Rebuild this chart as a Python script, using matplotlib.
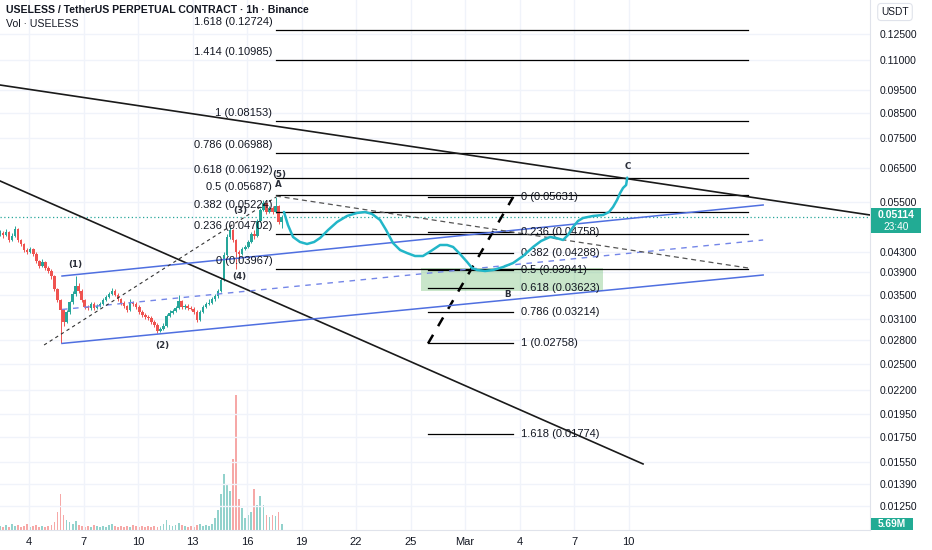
import numpy as np
import matplotlib
matplotlib.use("Agg")
import matplotlib.pyplot as plt
from matplotlib.patches import Rectangle

plt.rcParams["font.family"] = ["Liberation Sans", "DejaVu Sans"]

# ---- candles (4h buckets, day numbers on the chart's own calendar) ----
start_day = 2.4
first_open = 0.04700
closes = [0.04727,0.04682,0.04750,0.04568,0.04659,0.04820,0.04568,0.04480,0.04350,0.04308,
          0.04372,0.04266,0.04123,0.04024,0.04103,0.03985,0.03927,0.03832,0.03597,0.03409,
          0.03246,0.03062,0.03215,0.03376,0.03510,0.03650,0.03562,0.03409,0.03295,0.03279,
          0.03343,0.03279,0.03311,0.03343,0.03409,0.03459,0.03510,0.03562,0.03493,0.03426,
          0.03360,0.03311,0.03246,0.03376,0.03343,0.03295,0.03215,0.03169,0.03138,0.03123,
          0.03062,0.03017,0.02930,0.02959,0.03003,0.03153,0.03200,0.03231,0.03279,0.03392,
          0.03295,0.03311,0.03279,0.03263,0.03215,0.03092,0.03215,0.03295,0.03343,0.03360,
          0.03426,0.03476,0.03562,0.03758,0.04246,0.04636,0.04797,0.04568,0.04308,0.04266,
          0.04372,0.04415,0.04524,0.04704,0.04659,0.05012,0.05288,0.05472,0.05237,0.05341,
          0.05237,0.05393,0.04987,0.05114]
highs = [0.04790,0.04780,0.04810,0.04770,0.04720,0.04891,0.04850,0.04600,0.04500,0.04390,
         0.04420,0.04400,0.04310,0.04150,0.04160,0.04130,0.04020,0.03960,0.03850,0.03620,
         0.03430,0.03260,0.03250,0.03400,0.03560,0.03832,0.03700,0.03590,0.03430,0.03330,
         0.03380,0.03370,0.03350,0.03380,0.03440,0.03490,0.03550,0.03620,0.03590,0.03520,
         0.03450,0.03390,0.03330,0.03420,0.03400,0.03370,0.03320,0.03240,0.03200,0.03170,
         0.03150,0.03090,0.03040,0.02990,0.03040,0.03190,0.03240,0.03270,0.03310,0.03493,
         0.03410,0.03350,0.03340,0.03310,0.03290,0.03240,0.03240,0.03330,0.03380,0.03420,
         0.03460,0.03510,0.03600,0.03800,0.04300,0.04700,0.04867,0.04830,0.04600,0.04350,
         0.04420,0.04460,0.04570,0.04760,0.04790,0.05060,0.05340,0.05553,0.05500,0.05400,
         0.05380,0.05631,0.05420,0.05160]
lows = [0.04660,0.04620,0.04650,0.04520,0.04540,0.04630,0.04530,0.04430,0.04310,0.04260,
        0.04280,0.04230,0.04090,0.03990,0.04000,0.03950,0.03880,0.03780,0.03560,0.03370,
        0.02758,0.03000,0.03040,0.03190,0.03350,0.03480,0.03520,0.03380,0.03260,0.03240,
        0.03250,0.03250,0.03260,0.03290,0.03320,0.03390,0.03440,0.03490,0.03470,0.03400,
        0.03330,0.03280,0.03220,0.03230,0.03310,0.03270,0.03190,0.03140,0.03110,0.03090,
        0.03030,0.02990,0.02902,0.02910,0.02940,0.02990,0.03130,0.03180,0.03210,0.03260,
        0.03270,0.03270,0.03250,0.03240,0.03190,0.03062,0.03080,0.03200,0.03280,0.03320,
        0.03340,0.03400,0.03450,0.03540,0.03740,0.04220,0.04600,0.04520,0.03967,0.04150,
        0.04240,0.04340,0.04390,0.04500,0.04600,0.04630,0.04980,0.05250,0.05190,0.05200,
        0.05190,0.05210,0.04940,0.04844]
# volume in millions
volumes = [4,3,5,3,6,4,5,3,4,6,3,4,5,3,4,3,4,5,
           8,18,35,15,10,8,6,9,
           5,4,3,4,3,5,4,3,4,3,5,6,4,3,4,3,4,3,5,4,3,4,3,4,3,4,3,
           4,6,10,5,4,5,7,5,4,3,4,3,5,6,4,5,4,6,12,20,35,55,45,38,70,
           132,30,22,12,15,18,40,25,33,25,15,13,15,14,18,5.69]
last_price = 0.05114
countdown = "23:40"

# ---- fib extension (upper, long lines) ----
fib1_ratio = ["1.618", "1.414", "1", "0.786", "0.618", "0.5", "0.382", "0.236", "0"]
fib1_price = [0.12724, 0.10985, 0.08153, 0.06988, 0.06192, 0.05687, 0.05224, 0.04702, 0.03967]
fib1_days = [17.59, 43.57]

# ---- fib retracement (short lines) ----
fib2_ratio = ["0", "0.236", "0.382", "0.5", "0.618", "0.786", "1", "1.618"]
fib2_price = [0.05631, 0.04758, 0.04288, 0.03941, 0.03623, 0.03214, 0.02758, 0.01774]
fib2_days = [25.96, 30.64]

# ---- drawings ----
upper_trend_d = [2.404, 50.28]; upper_trend_p = [0.09730, 0.05161]
lower_trend_d = [2.404, 37.79]; lower_trend_p = [0.06093, 0.01532]
chan_d = [5.816, 44.40]
chan_top = [0.03832, 0.05419]
chan_mid = [0.03255, 0.04568]
chan_bot = [0.02758, 0.03851]
wave_line_d = [4.83, 17.59]; wave_line_p = [0.02737, 0.05631]
a_line_d = [17.59, 43.57]; a_line_p = [0.05661, 0.03985]
retr_line_d = [25.96, 30.64]; retr_line_p = [0.02758, 0.05631]
box_days = [25.57, 35.59]; box_price = [0.03560, 0.03990]

path_d = [18.03,18.25,18.53,18.91,19.30,19.69,20.02,20.46,20.95,21.50,22.05,22.49,22.88,23.32,
          23.65,24.03,24.42,24.80,25.24,25.68,26.12,26.62,27.01,27.34,27.72,28.11,28.38,28.66,
          29.10,29.54,30.09,30.64,31.19,31.74,32.18,32.67,33.00,33.39,33.66,33.94,34.21,34.49,
          35.04,35.59,35.92,36.14,36.36,36.53,36.69,36.86,36.92]
path_p = [0.05237,0.04915,0.04636,0.04524,0.04480,0.04524,0.04614,0.04797,0.04987,0.05136,
          0.05212,0.05237,0.05186,0.05036,0.04797,0.04502,0.04350,0.04287,0.04225,0.04225,
          0.04329,0.04458,0.04458,0.04415,0.04266,0.04103,0.03985,0.03946,0.03927,0.03946,
          0.04004,0.04083,0.04225,0.04415,0.04546,0.04636,0.04614,0.04568,0.04682,0.04867,
          0.05012,0.05086,0.05136,0.05161,0.05237,0.05367,0.05553,0.05745,0.05888,0.05974,
          0.06192]

wave_text = ["(1)", "(2)", "(3)", "(4)", "(5)", "A", "B", "C"]
wave_d = [6.53, 11.32, 15.61, 15.56, 17.78, 17.72, 30.31, 36.97]
wave_p = [0.04063, 0.02724, 0.05263, 0.03832, 0.06300, 0.05990, 0.03510, 0.06554]

price_ticks = [0.125, 0.11, 0.095, 0.085, 0.075, 0.065, 0.055, 0.043, 0.039, 0.035,
               0.031, 0.028, 0.025, 0.022, 0.0195, 0.0175, 0.0155, 0.0139, 0.0125]
date_ticks = [4, 7, 10, 13, 16, 19, 22, 25, 28, 31, 34, 37]
date_labels = ["4", "7", "10", "13", "16", "19", "22", "25", "Mar", "4", "7", "10"]

GREEN = "#26a69a"
RED = "#ef5350"
BLUE = "#4f6fe0"
CYAN = "#22b6c8"
TXT = "#131722"

fig = plt.figure(figsize=(9.32, 5.5), dpi=100)
rect = [0, 20 / 550, 870 / 932, 530 / 550]
xlim = (2.404, 50.28)

n = len(closes)
days = start_day + np.arange(n) / 6.0
opens = [first_open] + closes[:-1]
cols = [GREEN if c >= o else RED for o, c in zip(opens, closes)]

# volume pane underneath
axv = fig.add_axes(rect)
axv.set_xlim(*xlim)
axv.set_ylim(0, 520)
axv.bar(days, volumes, width=0.1, color=cols, alpha=0.5, linewidth=0)
axv.axis("off")

ax = fig.add_axes(rect)
ax.patch.set_visible(False)
ax.set_yscale("log")
ax.set_xlim(*xlim)
ax.set_ylim(0.0111, 0.1473)

for t in price_ticks:
    ax.axhline(t, color="#f0f3fa", lw=1, zorder=0)
for t in date_ticks:
    ax.axvline(t, color="#f0f3fa", lw=1, zorder=0)

# candles
ax.vlines(days, lows, highs, colors=cols, lw=0.7, zorder=3)
bottoms = [min(o, c) for o, c in zip(opens, closes)]
heights = [abs(c - o) for o, c in zip(opens, closes)]
ax.bar(days, heights, bottom=bottoms, width=0.14, color=cols, linewidth=0, zorder=3)

ax.axhline(last_price, color=GREEN, lw=0.9, ls=(0, (1, 2)), zorder=2)

# upper fib
for r, p in zip(fib1_ratio, fib1_price):
    ax.plot(fib1_days, [p, p], color="black", lw=0.9, zorder=4)
    ax.annotate(f"{r} ({p:.5f})", (fib1_days[0] - 0.2, p), xytext=(0, 2),
                textcoords="offset points", ha="right", va="bottom",
                fontsize=8, color=TXT, zorder=5)

# green zone + retracement
ax.add_patch(Rectangle((box_days[0], box_price[0]), box_days[1] - box_days[0],
                       box_price[1] - box_price[0], facecolor="#4caf50", alpha=0.3,
                       linewidth=0, zorder=1))
for r, p in zip(fib2_ratio, fib2_price):
    ax.plot(fib2_days, [p, p], color="black", lw=0.9, zorder=4)
    ax.text(fib2_days[1] + 0.45, p, f"{r} ({p:.5f})", ha="left", va="center",
            fontsize=8, color=TXT, zorder=5)
ax.plot(retr_line_d, retr_line_p, color="black", lw=1.8, dashes=(4, 4), zorder=4)

# trend lines
ax.plot(upper_trend_d, upper_trend_p, color="#1a1a1a", lw=1.2, zorder=4)
ax.plot(lower_trend_d, lower_trend_p, color="#1a1a1a", lw=1.2, zorder=4)
ax.plot(chan_d, chan_top, color=BLUE, lw=1.1, zorder=4)
ax.plot(chan_d, chan_bot, color=BLUE, lw=1.1, zorder=4)
ax.plot(chan_d, chan_mid, color="#7486e8", lw=1.0, dashes=(4, 4), zorder=4)
ax.plot(wave_line_d, wave_line_p, color="#333333", lw=0.8, dashes=(3, 3), zorder=4)
ax.plot(a_line_d, a_line_p, color="#555555", lw=0.9, dashes=(4, 3), zorder=4)

# projected path
ax.plot(path_d, path_p, color=CYAN, lw=1.8, solid_capstyle="round", zorder=6)

for t, d, p in zip(wave_text, wave_d, wave_p):
    ax.text(d, p, t, ha="center", va="center", fontsize=6.3, fontweight="bold",
            family="DejaVu Sans", color="#2a2e39", zorder=7)

# axes styling
ax.yaxis.tick_right()
ax.yaxis.set_minor_locator(matplotlib.ticker.NullLocator())
ax.set_yticks(price_ticks)
ax.set_yticklabels([f"{t:.5f}" for t in price_ticks])
ax.tick_params(axis="y", length=0, pad=7, labelsize=7.5, labelcolor=TXT)
ax.set_xticks(date_ticks)
ax.set_xticklabels(date_labels)
ax.tick_params(axis="x", length=0, pad=5, labelsize=8, labelcolor=TXT)
for s in ["top", "left"]:
    ax.spines[s].set_visible(False)
for s in ["right", "bottom"]:
    ax.spines[s].set_color("#e0e3eb")

# header texts
fig.text(6 / 932, 1 - 10 / 550, "USELESS / TetherUS PERPETUAL CONTRACT · 1h · Binance",
         fontsize=7.6, fontweight="bold", color=TXT, va="center")
fig.text(6 / 932, 1 - 24 / 550, "Vol · USELESS", fontsize=7.6, color=TXT, va="center")
fig.text(895 / 932, 1 - 12 / 550, "USDT", fontsize=7.3, color=TXT, ha="center", va="center",
         bbox=dict(boxstyle="round,pad=0.35", fc="white", ec="#e0e3eb", lw=0.8))

# last price tag and volume tag
fig.patches.append(Rectangle((871 / 932, 1 - 233 / 550), 50 / 932, 25 / 550,
                             transform=fig.transFigure, facecolor="#22ab94", edgecolor="none"))
fig.text(896 / 932, 1 - 215 / 550, f"{last_price:.5f}", fontsize=7.5, fontweight="bold",
         color="white", ha="center", va="center")
fig.text(896 / 932, 1 - 227 / 550, countdown, fontsize=7.3, color="white", ha="center", va="center")
fig.patches.append(Rectangle((871 / 932, 1 - 530 / 550), 42 / 932, 12 / 550,
                             transform=fig.transFigure, facecolor="#22ab94", edgecolor="none"))
fig.text(892 / 932, 1 - 524 / 550, f"{volumes[-1]:.2f}M", fontsize=7.3, fontweight="bold",
         color="white", ha="center", va="center")

fig.savefig("out.png", dpi=100, facecolor="white")
